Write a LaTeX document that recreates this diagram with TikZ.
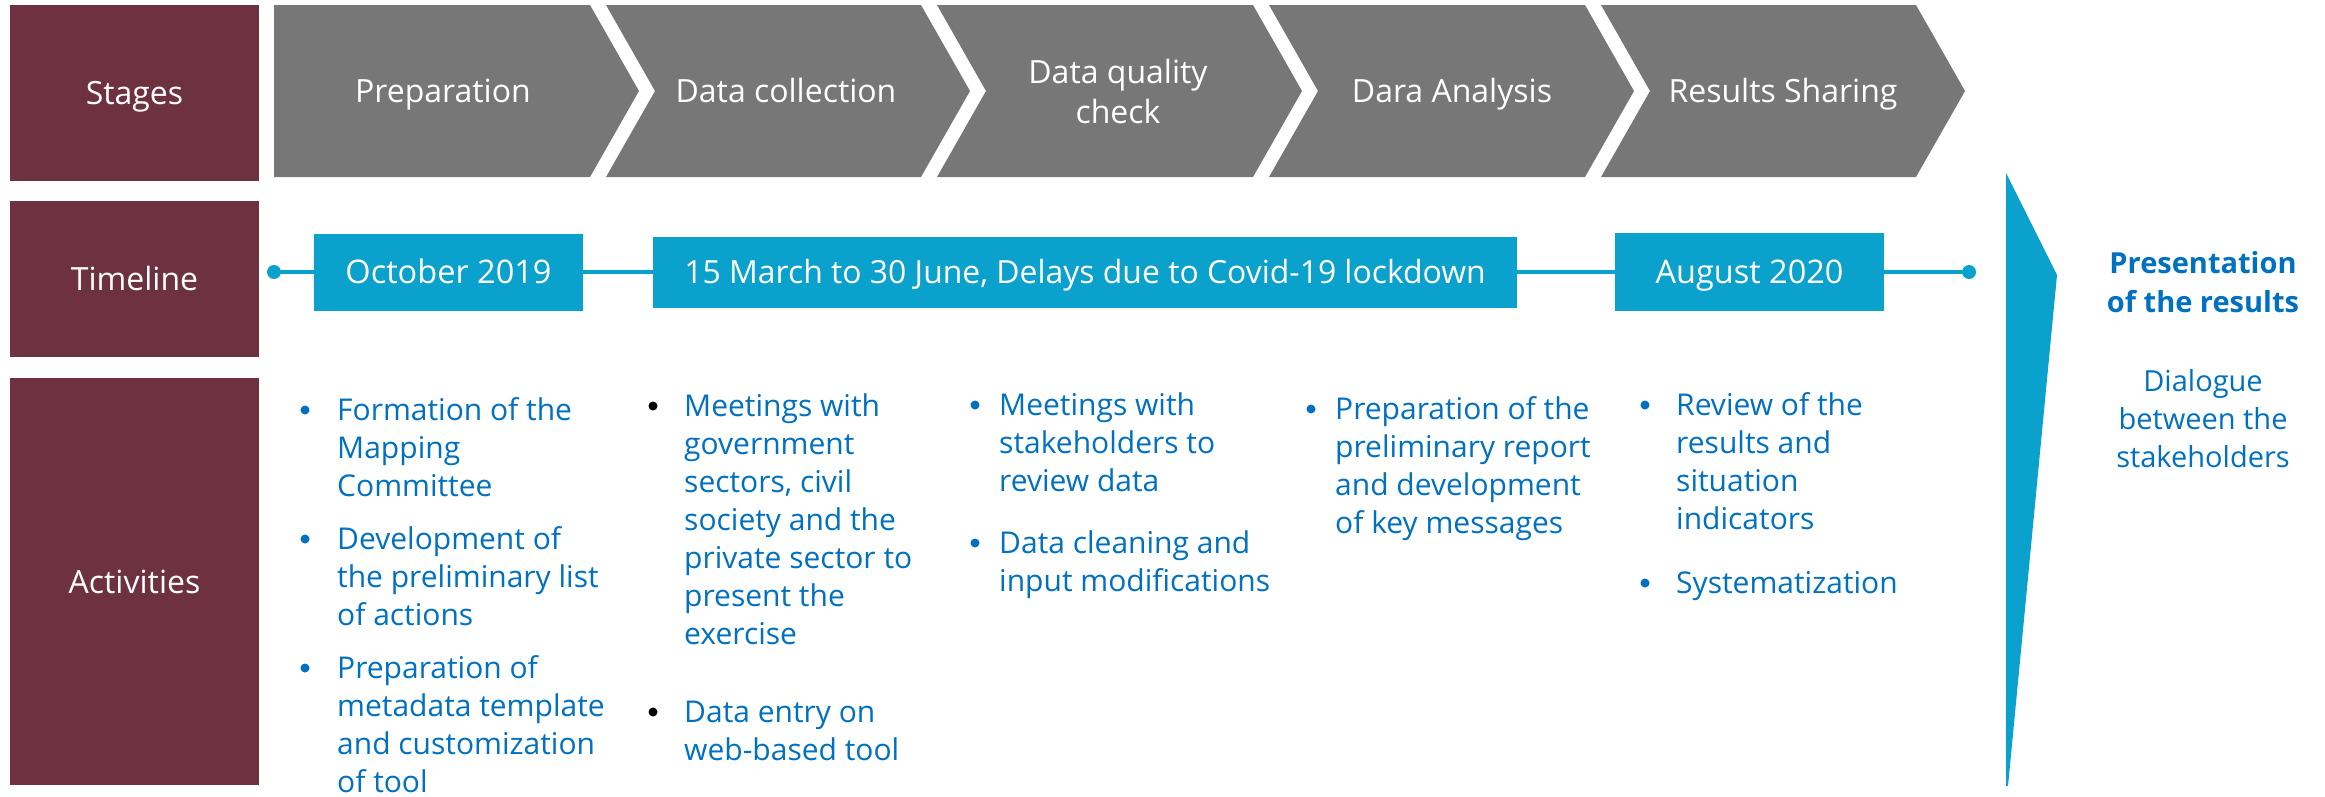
\documentclass[tikz,border=0pt]{standalone}
\usepackage{fontspec}
\setmainfont{Open Sans}
\definecolor{rowmaroon}{HTML}{6E3140}
\definecolor{stagegray}{HTML}{777777}
\definecolor{tlblue}{HTML}{0AA1CC}
\definecolor{txtblue}{HTML}{0070C0}
\tikzset{
  rowlabel/.style={fill=rowmaroon, text=white, inner sep=0pt, minimum width=249pt,
    text height=23pt, text depth=0pt, font=\fontsize{32}{38}\selectfont},
  stagebase/.style={text=white, inner sep=0pt, align=center, font=\fontsize{32}{40}\selectfont},
  stagetext/.style={stagebase, text height=23pt, text depth=0pt},
  tlbox/.style={fill=tlblue, text=white, inner sep=0pt, text height=23pt, text depth=0pt,
    font=\fontsize{32.5}{38}\selectfont},
  tldot/.style={circle, fill=tlblue, inner sep=0pt, minimum size=14pt},
  tlline/.style={draw=tlblue, line width=4pt},
  item/.style={text=txtblue, inner sep=0pt, align=left, anchor=north west,
    font=\fontsize{30}{38}\selectfont},
  bul/.style={circle, fill=txtblue, inner sep=0pt, minimum size=9pt},
  bulblack/.style={bul, fill=black},
  sidetext/.style={text=txtblue, inner sep=0pt, align=center, anchor=north,
    font=\fontsize{29}{38}\selectfont},
}
\begin{document}
\begin{tikzpicture}[x=1pt,y=-1pt]
\useasboundingbox (0,0) rectangle (2325,796);

% row headers
\node[rowlabel, minimum height=176pt] (stages) at (134.5,93) {Stages};
\node[rowlabel, minimum height=156pt] (timeline) at (134.5,279) {Timeline};
\node[rowlabel, minimum height=407pt] (activities) at (134.5,581.5) {Activities};

% stage chevrons
\fill[stagegray] (274,5) -- (590,5) -- (639,91) -- (590,177) -- (274,177) -- cycle;
\foreach \L/\R in {606/921, 937/1253, 1269/1585, 1601/1916}{
  \fill[stagegray] (\L,5) -- (\R,5) -- (\R+49,91) -- (\R,177) -- (\L,177) -- (\L+49,91) -- cycle;
}
\node[stagetext] (s1) at (443,91) {Preparation};
\node[stagetext] (s2) at (786,91) {Data collection};
\node[stagebase] (s3) at (1118,91) {Data quality\\check};
\node[stagetext] (s4) at (1452,91) {Dara Analysis};
\node[stagetext] (s5) at (1783,91) {Results Sharing};

% timeline
\node[tldot] (dl) at (274,272) {};
\node[tldot] (dr) at (1969,272) {};
\node[tlbox, minimum width=269pt, minimum height=77pt] (oct) at (448.5,272) {October 2019};
\node[tlbox, minimum width=864pt, minimum height=71pt, font=\fontsize{31.9}{38}\selectfont] (march) at (1085,272) {15 March to 30 June, Delays due to Covid-19 lockdown};
\node[tlbox, minimum width=269pt, minimum height=78pt] (aug) at (1749.5,272) {August 2020};
\draw[tlline] (dl) -- (oct);
\draw[tlline] (oct) -- (march);
\draw[tlline] (march) -- (aug);
\draw[tlline] (aug) -- (dr);

% final stage wedge
\fill[tlblue] (2006,173) -- (2057,275) -- (2008,786) -- (2006,786) -- cycle;
\node[sidetext, font=\bfseries\fontsize{29}{39}\selectfont] (present) at (2203,245.7) {\strut Presentation\\of the results};
\node[sidetext] (dialogue) at (2203,364.4) {\strut Dialogue\\between the\\stakeholders};

% activities: preparation
\node[bul] (b11) at (305,410) {};
\node[item] (a11) at (337,393.4) {\strut Formation of the\\Mapping\\Committee};
\node[bul] (b12) at (305,539) {};
\node[item] (a12) at (337,522.4) {\strut Development of\\the preliminary list\\of actions};
\node[bul] (b13) at (305,668) {};
\node[item] (a13) at (337,651.4) {\strut Preparation of\\metadata template\\and customization\\of tool};

% activities: data collection
\node[bulblack] (b21) at (653,406) {};
\node[item] (a21) at (684,389.4) {\strut Meetings with\\government\\sectors, civil\\society and the\\private sector to\\present the\\exercise};
\node[bulblack] (b22) at (653,712) {};
\node[item] (a22) at (684,695.4) {\strut Data entry on\\web-based tool};

% activities: data quality check
\node[bul] (b31) at (975,405) {};
\node[item] (a31) at (999,388.4) {\strut Meetings with\\stakeholders to\\review data};
\node[bul] (b32) at (975,543) {};
\node[item] (a32) at (999,526.4) {\strut Data cleaning and\\input modifications};

% activities: data analysis
\node[bul] (b41) at (1311,409) {};
\node[item] (a41) at (1335,392.4) {\strut Preparation of the\\preliminary report\\and development\\of key messages};

% activities: results sharing
\node[bul] (b51) at (1645,405) {};
\node[item] (a51) at (1676,388.4) {\strut Review of the\\results and\\situation\\indicators};
\node[bul] (b52) at (1645,583) {};
\node[item] (a52) at (1676,566.4) {\strut Systematization};
\end{tikzpicture}
\end{document}
